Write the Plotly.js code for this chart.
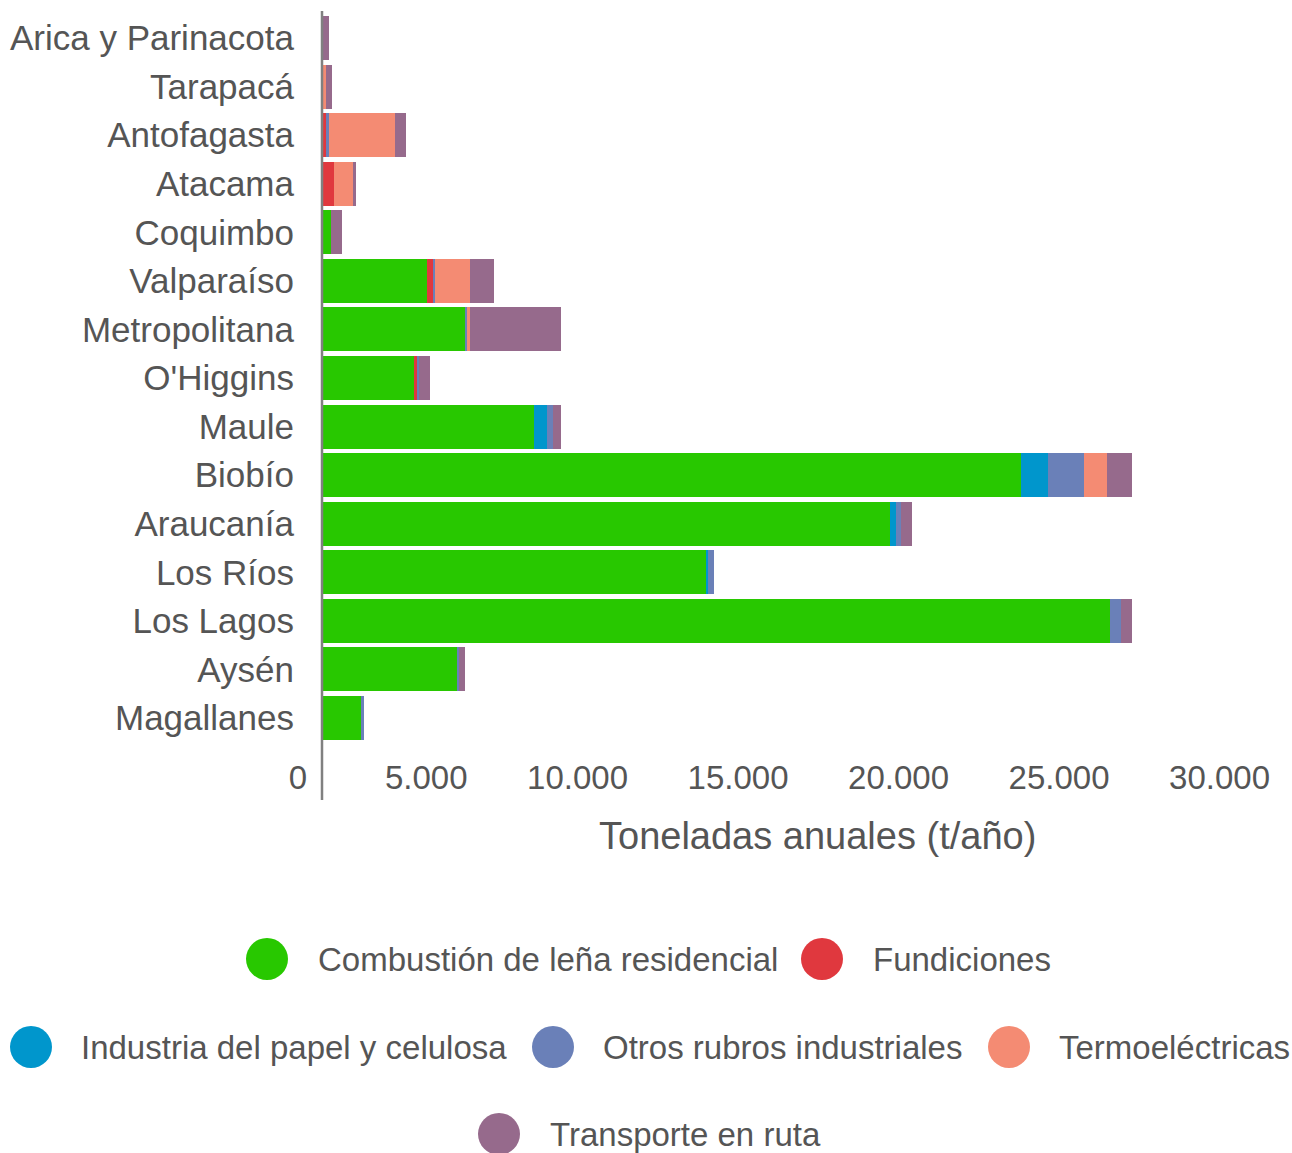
<!DOCTYPE html>
<html>
<head>
<meta charset="utf-8">
<script src="https://cdn.plot.ly/plotly-3.0.1.min.js"></script>
<style>body{margin:0;padding:0;background:#fff;}#chart{width:1292px;height:1153px;}</style>
</head>
<body>
<div id="chart"></div>
<script>
var regiones = ["Arica y Parinacota","Tarapacá","Antofagasta","Atacama","Coquimbo","Valparaíso","Metropolitana","O'Higgins","Maule","Biobío","Araucanía","Los Ríos","Los Lagos","Aysén","Magallanes"];
var combustionLena = [0,0,0,0,249,3230,4414,2826,6570,21757,17654,11931,24508,4174,1184];
var fundiciones    = [0,0,84,333,0,187,0,93,0,0,0,0,0,0,0];
var papelCelulosa  = [0,0,0,0,0,0,0,0,402,841,181,53,0,0,0];
var otrosRubros    = [0,0,93,0,0,62,62,62,193,1103,181,195,350,52,83];
var termoelectricas= [0,84,2056,592,0,1090,93,0,0,738,0,0,0,0,0];
var transporte     = [178,187,343,93,333,748,2835,343,249,754,324,0,336,187,0];
var seriesNames = ["Combustión de leña residencial","Fundiciones","Industria del papel y celulosa","Otros rubros industriales","Termoeléctricas","Transporte en ruta"];
var xTickVals = [0,5000,10000,15000,20000,25000,30000];
var xTickText = ["0","5.000","10.000","15.000","20.000","25.000","30.000"];
var xTitle = "Toneladas anuales (t/año)";

var colors = ["#28c800","#e0383e","#0096cc","#6a80b8","#f48b73","#966a8c"];
var seriesData = [combustionLena,fundiciones,papelCelulosa,otrosRubros,termoelectricas,transporte];

var traces = seriesData.map(function(d,i){
  return {type:'bar', orientation:'h', name:seriesNames[i], y:regiones, x:d,
          marker:{color:colors[i], line:{width:0}}, showlegend:false, hoverinfo:'x+name'};
});

var W=1292, H=1153, L=323, R=6, T=11, B=393;
var pw = W-L-R, ph = H-T-B;
function px2x(px){return (px-L)/pw;}
function px2y(py){return (H-B-py)/ph;}

var txtColor = '#555555';
var fontFam = 'Liberation Sans, Arial, sans-serif';

var legendItems = [
  {i:0, cx:267, cy:959, tx:316},
  {i:1, cx:822, cy:959, tx:871},
  {i:2, cx:31, cy:1047, tx:79},
  {i:3, cx:553, cy:1047, tx:601},
  {i:4, cx:1009, cy:1047, tx:1057},
  {i:5, cx:499, cy:1134, tx:548}
];
var shapes = [
  {type:'line', xref:'paper', yref:'paper', x0:px2x(322), x1:px2x(322), y0:px2y(11), y1:px2y(800),
   line:{color:'#808080', width:2.5}}
];
var annotations = [
  {xref:'paper', yref:'paper', x:px2x(817), y:px2y(836), xanchor:'center', yanchor:'middle',
   text:xTitle, showarrow:false, font:{size:38, color:txtColor, family:fontFam}}
];
legendItems.forEach(function(it){
  var r=21;
  shapes.push({type:'circle', xref:'paper', yref:'paper', x0:px2x(it.cx-r), x1:px2x(it.cx+r),
    y0:px2y(it.cy+r), y1:px2y(it.cy-r), fillcolor:colors[it.i], line:{width:0}});
  annotations.push({xref:'paper', yref:'paper', x:px2x(it.tx), y:px2y(it.cy), xanchor:'left', yanchor:'middle',
    text:seriesNames[it.i], showarrow:false, font:{size:33, color:txtColor, family:fontFam}});
});

var layout = {
  width:W, height:H,
  margin:{l:L, r:R, t:T, b:B, pad:0},
  paper_bgcolor:'#ffffff', plot_bgcolor:'#ffffff',
  barmode:'stack', bargap:0.094,
  font:{family:fontFam, color:txtColor},
  xaxis:{range:[0,30000], tickvals:xTickVals, ticktext:xTickText, showgrid:false, zeroline:false,
         showline:false, ticks:'', ticklabelposition:'outside left', ticklabelstandoff:-5, ticklabelshift:-16,
         tickfont:{size:33, color:txtColor}},
  yaxis:{type:'category', categoryorder:'array', categoryarray:regiones, range:[14.865,-0.556],
         showgrid:false, zeroline:false, showline:false, ticks:'', ticklabelstandoff:28,
         tickfont:{size:35, color:txtColor}},
  shapes:shapes,
  annotations:annotations
};
Plotly.newPlot('chart', traces, layout, {displayModeBar:false, staticPlot:true});
</script>
</body>
</html>
